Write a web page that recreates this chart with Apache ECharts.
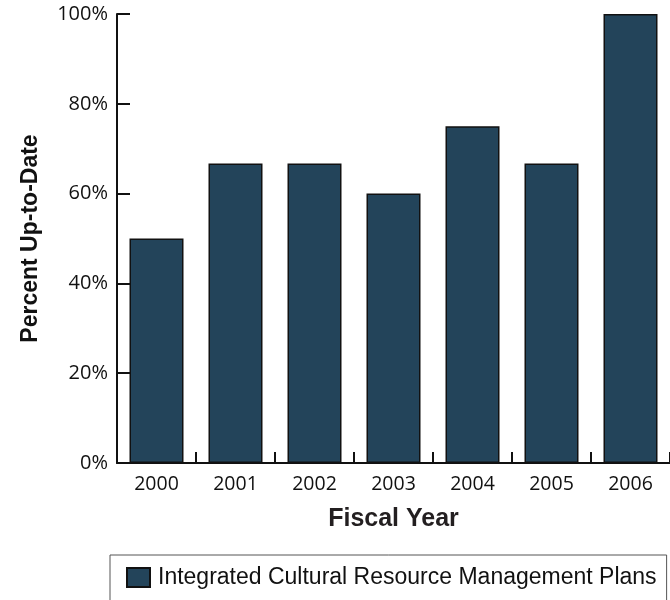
<!DOCTYPE html>
<html>
<head>
<meta charset="utf-8">
<script src="https://cdn.jsdelivr.net/npm/echarts@6/dist/echarts.min.js"></script>
<style>
  html, body { margin: 0; padding: 0; background: #fff; }
  #main { width: 670px; height: 600px; }
</style>
</head>
<body>
<div id="main"></div>
<script>
// fiscal years and share of plans that are up to date
const years = ['2000', '2001', '2002', '2003', '2004', '2005', '2006'];
const upToDate = [50, 66.7, 66.7, 60, 75, 66.7, 100];
const seriesName = 'Integrated Cultural Resource Management Plans';

const chart = echarts.init(document.getElementById('main'));

chart.setOption({
  animation: false,
  grid: { left: 117, top: 14, width: 558, height: 449 },
  legend: {
    left: 110,
    top: 555,
    padding: [11, 10, 14, 16],
    borderColor: '#555',
    borderWidth: 1,
    icon: 'rect',
    itemWidth: 23,
    itemHeight: 19,
    itemGap: 10,
    textStyle: { fontFamily: 'Liberation Sans', fontSize: 23, color: '#111', padding: [0, 0, 0, 3] },
    data: [seriesName]
  },
  xAxis: {
    type: 'category',
    data: years,
    name: 'Fiscal Year',
    nameLocation: 'middle',
    nameGap: 44,
    nameTextStyle: { fontFamily: 'Liberation Sans', fontWeight: 'bold', fontSize: 25, color: '#231f20' },
    axisLine: { lineStyle: { color: '#111', width: 2 } },
    axisTick: { show: true, interval: 0, inside: true, length: 11, lineStyle: { color: '#111', width: 2 } },
    axisLabel: { fontFamily: 'Open Sans', fontSize: 19.5, color: '#111', margin: 11 }
  },
  yAxis: {
    type: 'value',
    min: 0,
    max: 100,
    interval: 20,
    name: 'Percent Up-to-Date',
    nameLocation: 'middle',
    nameGap: 75,
    nameTextStyle: { fontFamily: 'Liberation Sans', fontWeight: 'bold', fontSize: 23, color: '#111' },
    axisLine: { show: true, lineStyle: { color: '#111', width: 2 } },
    axisTick: { show: true, inside: true, length: 13, lineStyle: { color: '#111', width: 2 } },
    axisLabel: { fontFamily: 'Open Sans', fontSize: 20, color: '#111', margin: 9, formatter: '{value}%' },
    splitLine: { show: false }
  },
  series: [{
    name: seriesName,
    type: 'bar',
    data: upToDate,
    barWidth: 54,
    itemStyle: { color: '#23445a', borderColor: '#111', borderWidth: 1.5 }
  }]
});
</script>
</body>
</html>
